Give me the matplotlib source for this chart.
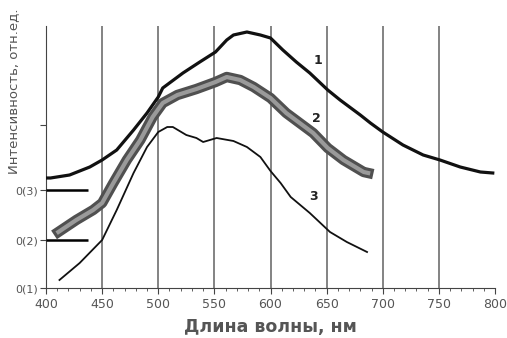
import matplotlib
matplotlib.use("Agg")
import matplotlib.pyplot as plt
import matplotlib.patheffects as pe

# Curve 1 (top)
wl1 = [400, 404, 421, 439, 450, 463, 478, 490, 500, 504, 522, 537, 551, 561, 567,
       579, 591, 600, 611, 623, 635, 651, 662, 680, 689, 700, 718, 736, 751, 769,
       787, 798]
i1 = [110, 110, 113, 121, 128, 138, 158, 175, 191, 200, 215, 226, 236, 248, 253,
      256, 253, 250, 238, 226, 215, 198, 188, 173, 165, 156, 143, 133, 128, 121,
      116, 115]

# Curve 2 (circles)
wl2 = [411, 427, 442, 450, 460, 472, 484, 495, 504, 517, 534, 551, 561, 573, 585,
       600, 614, 626, 638, 651, 665, 683, 687]
i2 = [56, 68, 78, 85, 105, 128, 148, 171, 185, 193, 199, 206, 211, 208, 201,
      190, 175, 165, 155, 140, 128, 116, 115]

# Curve 3 (bottom)
wl3 = [412, 430, 450, 463, 478, 490, 500, 508, 513, 525, 534, 540, 552, 567, 579,
       591, 600, 609, 618, 635, 653, 668, 686]
i3 = [8, 25, 48, 78, 115, 141, 156, 161, 161, 153, 150, 146, 150, 147, 141,
      131, 117, 105, 91, 75, 56, 46, 36]

xticks = [400, 450, 500, 550, 600, 650, 700, 750, 800]
ytick_pos = [0, 48, 98]
ytick_labels = ["0(1)", "0(2)", "0(3)"]
curve_labels = ["1", "2", "3"]
label_pos = [(642, 228), (641, 169), (638, 91)]
baseline_marks = [48, 98]

fig = plt.figure(figsize=(5.07, 3.38), dpi=100)
ax = fig.add_axes([46 / 507, 50 / 338, 449 / 507, 262 / 338])
ax.set_xlim(400, 800)
ax.set_ylim(0, 262)

for xv in xticks[1:-1]:
    ax.axvline(xv, color="#7a7a7a", lw=1.3, zorder=1)

for b in baseline_marks:
    ax.plot([400, 437], [b, b], color="black", lw=1.8, zorder=3, solid_capstyle="butt")

ax.plot(wl1, i1, color="#111111", lw=2.3, zorder=4)
ax.plot(wl2, i2, color="#9a9a9a", lw=3.0, zorder=4,
        path_effects=[pe.Stroke(linewidth=7.5, foreground="#505050"), pe.Normal()])
ax.plot(wl3, i3, color="#111111", lw=1.3, zorder=4)

for t, (xx, yy) in zip(curve_labels, label_pos):
    ax.text(xx, yy, t, fontsize=9, fontweight="bold", color="#222222",
            ha="center", va="center")

ax.spines["top"].set_visible(False)
ax.spines["right"].set_visible(False)
ax.spines["left"].set_color("#444444")
ax.spines["bottom"].set_color("#444444")

ax.set_xticks(xticks)
ax.set_xticklabels([str(v) for v in xticks], fontsize=9, color="#555555")
ax.set_xticks(range(400, 801, 10), minor=True)
ax.tick_params(axis="x", which="major", direction="out", length=4, color="#444444", pad=3)
ax.tick_params(axis="x", which="minor", direction="out", length=2.5, color="#444444")

ax.set_yticks(ytick_pos + [163])
ax.set_yticklabels(ytick_labels + [""], fontsize=8, color="#555555")
ax.tick_params(axis="y", direction="out", length=4, color="#444444", pad=2)

ax.set_xlabel("Длина волны, нм", fontsize=12.5, fontweight="bold", color="#555555", labelpad=5)
ax.set_ylabel("Интенсивность, отн.ед.", fontsize=9.5, color="#555555")
ax.yaxis.set_label_coords(-0.058, 0.75)

fig.savefig("out.png", dpi=100)
